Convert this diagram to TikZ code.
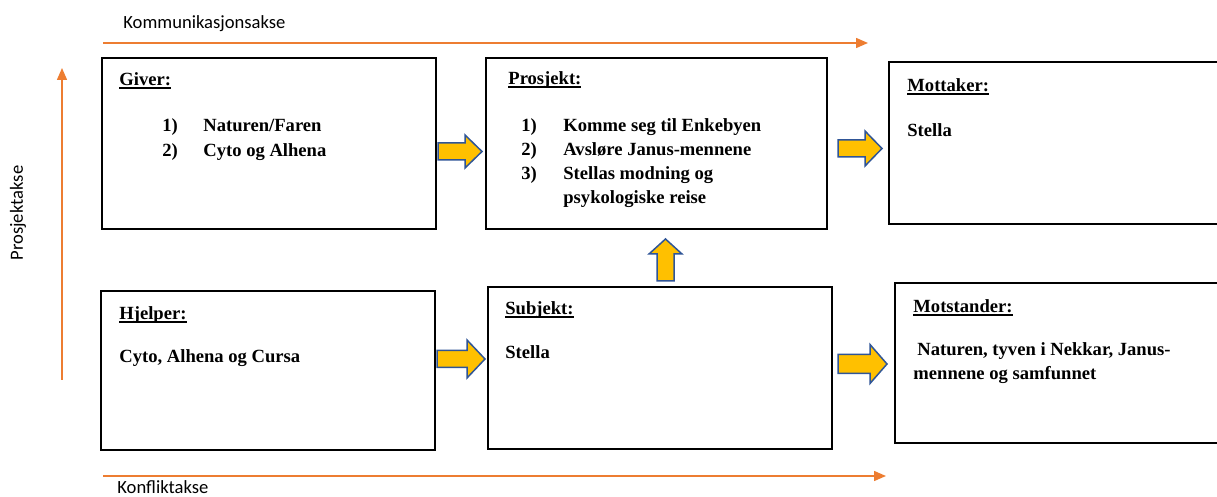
\documentclass[tikz,border=0pt]{standalone}
\usepackage{fontspec}
\setmainfont{Liberation Serif}
\newfontfamily\axisfont{Carlito}
\usetikzlibrary{arrows.meta}
\definecolor{axisorange}{HTML}{ED7D31}
\definecolor{blockfill}{HTML}{FFC000}
\definecolor{blockedge}{HTML}{2F5597}
\newcommand\ulhead[1]{\setbox0\hbox{#1}\rlap{\rule[-1.5pt]{\wd0}{0.75pt}}\box0}
% right block arrow: x0, x1, yc, shaft half, head half, head length
\newcommand\blockright[6]{%
  \draw[blockarrow] (#1,#3-#4) -- (#2-#6,#3-#4) -- (#2-#6,#3-#5) -- (#2,#3)
    -- (#2-#6,#3+#5) -- (#2-#6,#3+#4) -- (#1,#3+#4) -- cycle;}
% up block arrow: y0 (bottom), y1 (tip), xc, shaft half, head half, head length
\newcommand\blockup[6]{%
  \draw[blockarrow] (#3-#4,#1) -- (#3-#4,#2+#6) -- (#3-#5,#2+#6) -- (#3,#2)
    -- (#3+#5,#2+#6) -- (#3+#4,#2+#6) -- (#3+#4,#1) -- cycle;}
\begin{document}
\begin{tikzpicture}[x=0.5pt,y=-0.5pt,
  box/.style={draw=black,line width=1pt,rectangle,inner sep=0pt,fill=white},
  btxt/.style={anchor=base west,inner sep=0pt,font=\fontsize{9.3}{12.5}\selectfont\bfseries},
  axislabel/.style={anchor=base west,inner sep=0pt,font=\fontsize{9.3}{11}\selectfont\axisfont},
  axis/.style={draw=axisorange,line width=0.75pt,-{Triangle[length=6pt,width=5pt]}},
  blockarrow/.style={draw=blockedge,fill=blockfill,line width=0.75pt,line join=miter}]
\useasboundingbox (0,0) rectangle (1217,497);
\clip (0,0) rectangle (1217,497);
% axes
\node[axislabel] (klabel) at (123,29) {Kommunikasjonsakse};
\coordinate (kstart) at (103,43);
\coordinate (kend) at (868,43);
\draw[axis] (kstart) -- (kend);
\coordinate (pstart) at (62,380);
\coordinate (pend) at (62,68);
\draw[axis] (pstart) -- (pend);
\node[inner sep=0pt,rotate=90,font=\fontsize{9.3}{11}\selectfont\axisfont] (plabel) at (18,213) {Prosjektakse};
\coordinate (fstart) at (103,476);
\coordinate (fend) at (886,476);
\draw[axis] (fstart) -- (fend);
\node[axislabel] (flabel) at (117,494) {Konfliktakse};
% boxes
\node[box,minimum width=167pt,minimum height=85.5pt] (giver) at (269,143.5) {};
\node[box,minimum width=170.5pt,minimum height=85.5pt] (prosjekt) at (656.5,143.5) {};
\node[box,minimum width=170.5pt,minimum height=81pt] (mottaker) at (1059.5,143) {};
\node[box,minimum width=167pt,minimum height=79.5pt] (hjelper) at (268,370.5) {};
\node[box,minimum width=172pt,minimum height=81pt] (subjekt) at (660,368) {};
\node[box,minimum width=167.5pt,minimum height=80pt] (motstander) at (1062.5,363) {};
% texts
\node[btxt] (giverT) at (119,86) {\ulhead{Giver:}};
\node[btxt] (giver1n) at (162,132) {1)};
\node[btxt] (giver1) at (203,132) {Naturen/Faren};
\node[btxt] (giver2n) at (162,157) {2)};
\node[btxt] (giver2) at (203,157) {Cyto og Alhena};
\node[btxt] (prosT) at (508,85) {\ulhead{Prosjekt:}};
\node[btxt] (pros1n) at (521,132) {1)};
\node[btxt] (pros1) at (563,132) {Komme seg til Enkebyen};
\node[btxt] (pros2n) at (521,156) {2)};
\node[btxt] (pros2) at (563,156) {Avsløre Janus-mennene};
\node[btxt] (pros3n) at (521,180) {3)};
\node[btxt] (pros3) at (563,180) {Stellas modning og};
\node[btxt] (pros4) at (563,204) {psykologiske reise};
\node[btxt] (mottT) at (907,92) {\ulhead{Mottaker:}};
\node[btxt] (mott1) at (907,137) {Stella};
\node[btxt] (hjelT) at (119,320) {\ulhead{Hjelper:}};
\node[btxt] (hjel1) at (119,363) {Cyto, Alhena og Cursa};
\node[btxt] (subjT) at (505,315) {\ulhead{Subjekt:}};
\node[btxt] (subj1) at (505,359) {Stella};
\node[btxt] (motsT) at (913,313) {\ulhead{Motstander:}};
\node[btxt] (mots1) at (917,356) {Naturen, tyven i Nekkar, Janus-};
\node[btxt] (mots2) at (913,380) {mennene og samfunnet};
% block arrows
\blockright{438}{482}{151.5}{8.5}{16.5}{17}
\blockright{838}{882}{148.5}{8.5}{17.5}{17}
\blockright{437}{485}{359}{8.5}{19}{18}
\blockright{838}{887}{364}{9.5}{19.5}{17}
\blockup{281}{239}{665.5}{8.5}{16.5}{15}
\end{tikzpicture}
\end{document}
